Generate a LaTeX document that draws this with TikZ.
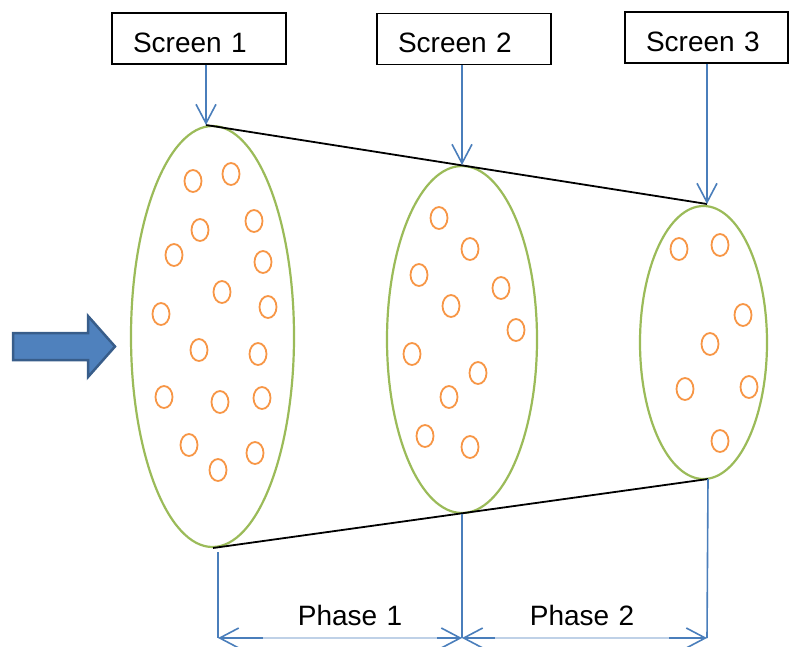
\documentclass[tikz,border=0pt]{standalone}
\usepackage{fontspec}
\setmainfont{Liberation Sans}
\usepackage{tikz}
\usetikzlibrary{shapes.geometric, arrows.meta, positioning}
\definecolor{linkblue}{RGB}{74, 126, 187}
\definecolor{rimgreen}{RGB}{155, 187, 89}
\definecolor{dotorange}{RGB}{247, 150, 70}
\definecolor{feedfill}{RGB}{79, 129, 189}
\definecolor{feedline}{RGB}{56, 93, 138}

\begin{document}
\begin{tikzpicture}[
    x=1pt, y=-1pt,
    font=\fontsize{28}{34}\selectfont,
    screenbox/.style={rectangle, draw, line width=1.2pt, minimum height=51pt, text width=132pt, inner xsep=21pt, align=left, text height=27pt, text depth=0pt},
    phaselabel/.style={rectangle, fill=white, fill opacity=0.65, text opacity=1, inner sep=0pt, text width=174pt, minimum height=54pt, align=center, text height=27pt, text depth=0pt},
    stage/.style={ellipse, draw=rimgreen, line width=2.2pt, inner sep=0pt},
    particle/.style={draw=dotorange, line width=1.8pt},
    link/.style={-{Straight Barb[length=19pt, width=20pt]}, draw=linkblue, line width=1.6pt},
    span/.style={{Straight Barb[length=19pt, width=20pt]}-{Straight Barb[length=19pt, width=20pt]}, draw=linkblue, line width=1.6pt},
    guide/.style={draw=linkblue, line width=1.6pt},
    wall/.style={draw=black, line width=1.8pt}
]
    \useasboundingbox (0,0) rectangle (789,646);

    % screens
    \node[screenbox] (s1) at (199,38.5) {Screen 1};
    \node[screenbox] (s2) at (464,39) {Screen 2};
    \node[screenbox, text width=121pt] (s3) at (706.5,37.5) {Screen 3};

    % the three stages
    \node[stage, minimum width=163pt, minimum height=421pt] (e1) at (212.5,336.5) {};
    \node[stage, minimum width=150pt, minimum height=347pt] (e2) at (462,339.5) {};
    \node[stage, minimum width=127pt, minimum height=273pt] (e3) at (703.5,342.5) {};

    \coordinate (t1) at (206,125);
    \coordinate (t2) at (462,165);
    \coordinate (t3) at (707,204);
    \coordinate (b1) at (213,548);
    \coordinate (b2) at (462,514);
    \coordinate (b3) at (708,479);

    \draw[wall] (t1) -- (t3);
    \draw[wall] (b1) -- (b3);

    \draw[link] (s1.south -| t1) -- (t1);
    \draw[link] (s2.south -| t2) -- (t2);
    \draw[link] (s3.south -| t3) -- (t3);

    % particles
    \foreach \x/\y in {193/181, 231/174, 200/230, 254/221, 174/255, 263/262, 222/292,
        161/314, 268/307, 199/350, 258/354, 164/397, 220/402, 262/398, 189/445, 218/470, 255/453}
        \draw[particle] (\x,\y) ellipse [x radius=8.5pt, y radius=11pt];
    \foreach \x/\y in {439/218, 470/249, 419/275, 501/288, 451/306, 516/330,
        412/354, 478/373, 449/397, 425/436, 470/447}
        \draw[particle] (\x,\y) ellipse [x radius=8.5pt, y radius=11pt];
    \foreach \x/\y in {679/249, 720/245, 743/315, 710/344, 685/389, 749/387, 720/441}
        \draw[particle] (\x,\y) ellipse [x radius=8.5pt, y radius=11pt];

    % feed arrow
    \draw[fill=feedfill, draw=feedline, line width=2.5pt]
        (13,333) -- (88,333) -- (88,316) -- (115,346.5) -- (88,377) -- (88,360) -- (13,360) -- cycle;

    % phases
    \coordinate (d1) at (218,552);
    \coordinate (m1) at (218,638);
    \coordinate (m2) at (462,638);
    \coordinate (m3) at (707,638);
    \draw[guide] (d1) -- (m1);
    \draw[guide] (b2) -- (m2);
    \draw[guide] (b3) -- (m3);
    \draw[span] (m1) -- (m2);
    \draw[span] (m2) -- (m3);
    \node[phaselabel] (p1) at (350,612) {Phase 1};
    \node[phaselabel] (p2) at (582,612) {Phase 2};
\end{tikzpicture}
\end{document}
